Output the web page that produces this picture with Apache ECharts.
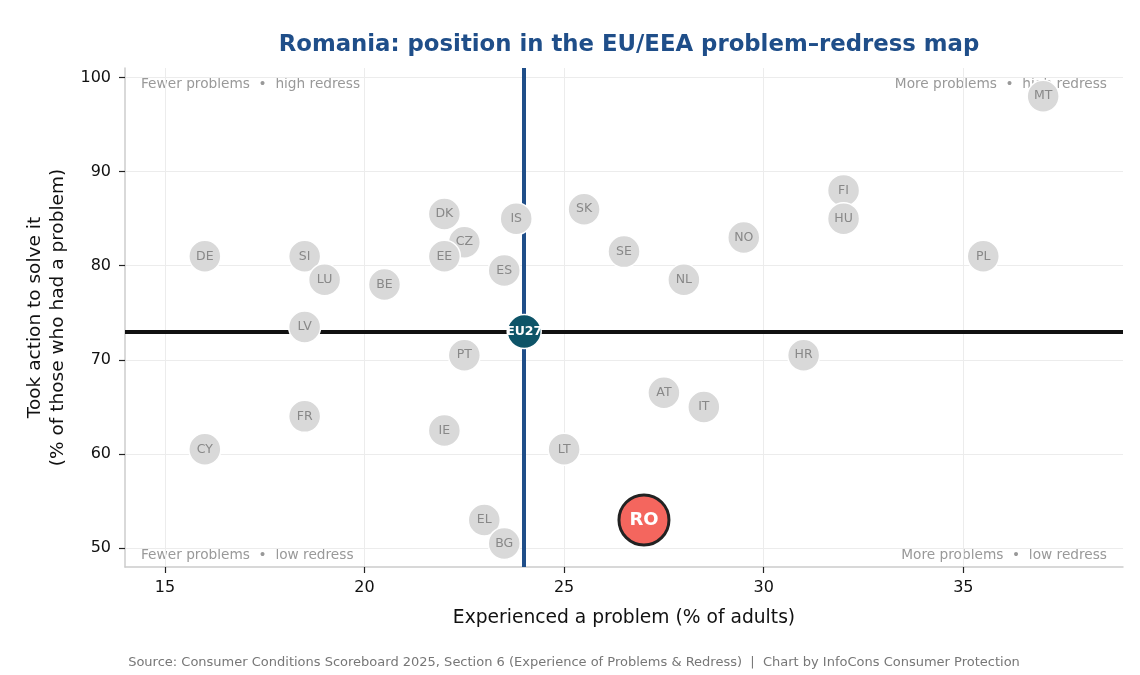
<!DOCTYPE html>
<html>
<head>
<meta charset="utf-8">
<script src="https://cdn.jsdelivr.net/npm/echarts@6/dist/echarts.min.js"></script>
<style>
  html, body { margin: 0; padding: 0; background: #fff; }
  #chart { width: 1140px; height: 675px; }
</style>
</head>
<body>
<div id="chart"></div>
<script>
var countries = ['MT', 'FI', 'HU', 'NO', 'PL', 'SK', 'SE', 'NL', 'IS', 'DK', 'CZ', 'EE', 'ES', 'DE', 'SI', 'LU', 'BE',
  'LV', 'PT', 'HR', 'AT', 'IT', 'FR', 'IE', 'CY', 'LT', 'EL', 'BG'];
var problemPct = [37.0, 32.0, 32.0, 29.5, 35.5, 25.5, 26.5, 28.0, 23.8, 22.0, 22.5, 22.0, 23.5, 16.0, 18.5, 19.0, 20.5,
  18.5, 22.5, 31.0, 27.5, 28.5, 18.5, 22.0, 16.0, 25.0, 23.0, 23.5];
var redressPct = [98.0, 88.0, 85.0, 83.0, 81.0, 86.0, 81.5, 78.5, 85.0, 85.5, 82.5, 81.0, 79.5, 81.0, 81.0, 78.5, 78.0,
  73.5, 70.5, 70.5, 66.5, 65.0, 64.0, 62.5, 60.5, 60.5, 53.0, 50.5];

var focus = { name: 'RO', problem: 27.0, redress: 53.0 };
var eu = { name: 'EU27', problem: 24.0, redress: 73.0 };

var xTicks = [15, 20, 25, 30, 35];
var yTicks = [50, 60, 70, 80, 90, 100];

var FONT = 'DejaVu Sans';

var chart = echarts.init(document.getElementById('chart'));

var others = countries.map(function (c, i) {
  return { name: c, value: [problemPct[i], redressPct[i]] };
});

var cornerStyle = { fill: '#999', fontSize: 13.7, fontFamily: FONT };

option = {
  backgroundColor: '#fff',
  textStyle: { fontFamily: FONT },
  title: [{
    text: 'Romania: position in the EU/EEA problem\u2013redress map',
    left: 624, top: 29, textAlign: 'center',
    textStyle: { color: '#1f4e89', fontSize: 22.8, fontWeight: 'bold', fontFamily: FONT }
  }, {
    text: 'Source: Consumer Conditions Scoreboard 2025, Section 6 (Experience of Problems & Redress)  |  Chart by InfoCons Consumer Protection',
    left: 569, top: 651, textAlign: 'center',
    textStyle: { color: '#777', fontSize: 13, fontWeight: 'normal', fontFamily: FONT }
  }],
  grid: { left: 125, right: 17, top: 68, bottom: 108 },
  xAxis: {
    type: 'value', min: 14, max: 39,
    name: 'Experienced a problem (% of adults)',
    nameLocation: 'middle', nameGap: 42,
    nameTextStyle: { color: '#111', fontSize: 18.7, fontFamily: FONT },
    axisLine: { show: true, onZero: false, lineStyle: { color: '#cccccc', width: 1.5 } },
    axisTick: { show: true, customValues: xTicks, length: 6, lineStyle: { color: '#222', width: 1.2 } },
    axisLabel: { customValues: xTicks, color: '#111', fontSize: 16, margin: 13, fontFamily: FONT },
    splitLine: { show: true, customValues: xTicks, lineStyle: { color: '#ececec', width: 1 } }
  },
  yAxis: {
    type: 'value', min: 48, max: 101,
    name: 'Took action to solve it\n(% of those who had a problem)',
    nameLocation: 'middle', nameGap: 54, nameRotate: 90,
    nameTextStyle: { color: '#111', fontSize: 18.5, lineHeight: 23, fontFamily: FONT },
    axisLine: { show: true, onZero: false, lineStyle: { color: '#cccccc', width: 1.5 } },
    axisTick: { show: true, customValues: yTicks, length: 6, lineStyle: { color: '#222', width: 1.2 } },
    axisLabel: { customValues: yTicks, color: '#111', fontSize: 16, margin: 14, fontFamily: FONT },
    splitLine: { show: true, customValues: yTicks, lineStyle: { color: '#ececec', width: 1 } }
  },
  graphic: [
    { type: 'text', left: 141, top: 77, silent: true, style: Object.assign({ text: 'Fewer problems  \u2022  high redress' }, cornerStyle) },
    { type: 'text', right: 33, top: 77, silent: true, style: Object.assign({ text: 'More problems  \u2022  high redress' }, cornerStyle) },
    { type: 'text', left: 141, top: 548, silent: true, style: Object.assign({ text: 'Fewer problems  \u2022  low redress' }, cornerStyle) },
    { type: 'text', right: 33, top: 548, silent: true, style: Object.assign({ text: 'More problems  \u2022  low redress' }, cornerStyle) }
  ],
  series: [{
    type: 'scatter',
    z: 3,
    symbolSize: 32,
    data: others,
    itemStyle: { color: '#d9d9d9', borderColor: '#fff', borderWidth: 1.5, opacity: 1 },
    label: {
      show: true, position: 'inside', formatter: '{b}',
      color: '#888', fontSize: 12.5, fontFamily: FONT
    },
    markLine: {
      silent: true, symbol: 'none', z: 1,
      label: { show: false },
      data: [
        { xAxis: eu.problem, lineStyle: { color: '#1f4e89', width: 4, type: 'solid' } },
        { yAxis: eu.redress, lineStyle: { color: '#111', width: 4, type: 'solid' } }
      ]
    }
  }, {
    type: 'scatter',
    z: 4,
    symbolSize: 34,
    data: [{ name: eu.name, value: [eu.problem, eu.redress] }],
    itemStyle: { color: '#0e5468', borderColor: '#fff', borderWidth: 1.5, opacity: 1 },
    label: {
      show: true, position: 'inside', formatter: '{b}',
      color: '#fff', fontSize: 12.5, fontWeight: 'bold', fontFamily: FONT
    }
  }, {
    type: 'scatter',
    z: 5,
    symbolSize: 50,
    data: [{ name: focus.name, value: [focus.problem, focus.redress] }],
    itemStyle: { color: '#f4665e', borderColor: '#222', borderWidth: 3, opacity: 1 },
    label: {
      show: true, position: 'inside', formatter: '{b}',
      color: '#fff', fontSize: 18, fontWeight: 'bold', fontFamily: FONT
    }
  }]
};

chart.setOption(option);
</script>
</body>
</html>
